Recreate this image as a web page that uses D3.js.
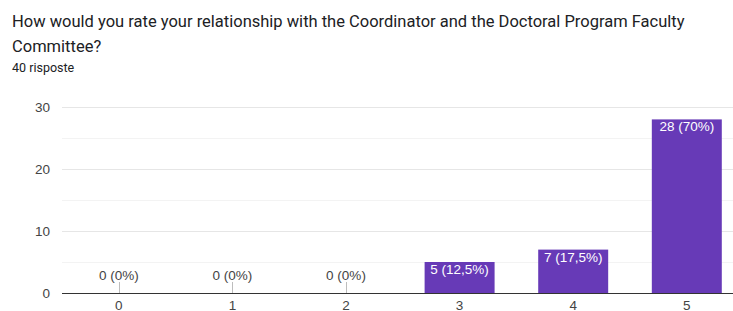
<!DOCTYPE html>
<html>
<head>
<meta charset="utf-8">
<script src="https://cdn.jsdelivr.net/npm/d3@7"></script>
<style>
  body { margin: 0; background: #fff; font-family: Roboto, Arial, sans-serif; }
  svg { display: block; }
  .lbl { font-family: "Liberation Sans", Arial, sans-serif; }
</style>
</head>
<body>
<svg id="chart" width="733" height="311"></svg>
<script>
// chart data.
var categories = ["0", "1", "2", "3", "4", "5"];
var counts = [0, 0, 0, 5, 7, 28];
var labels = ["0 (0%)", "0 (0%)", "0 (0%)", "5 (12,5%)", "7 (17,5%)", "28 (70%)"];
var yTicks = [0, 10, 20, 30];
var minorTicks = [5, 15, 25];

var svg = d3.select("#chart");

// title.
var title = svg.append("g").attr("fill", "#202124").style("font-size", "16.5px");
title.append("text").attr("x", 12).attr("y", 27)
  .text("How would you rate your relationship with the Coordinator and the Doctoral Program Faculty");
title.append("text").attr("x", 12).attr("y", 52).text("Committee?");
svg.append("text").attr("x", 12).attr("y", 72)
  .attr("fill", "#202124").style("font-size", "12.5px").text("40 risposte");

var plotLeft = 62, plotRight = 733, plotTop = 107, plotBottom = 293;

var x = d3.scaleBand().domain(categories)
  .range([plotLeft, plotLeft + 6 * 113.6]).paddingInner(0.384).paddingOuter(0.192);
var y = d3.scaleLinear().domain([0, 30]).range([plotBottom, plotTop]);

// grid.
svg.append("g").selectAll("line").data(minorTicks).join("line")
  .attr("x1", plotLeft).attr("x2", plotRight)
  .attr("y1", function(d) { return Math.round(y(d)) + 0.5; })
  .attr("y2", function(d) { return Math.round(y(d)) + 0.5; })
  .attr("stroke", "#f3f3f3");
svg.append("g").selectAll("line").data(yTicks.slice(1)).join("line")
  .attr("x1", plotLeft).attr("x2", plotRight)
  .attr("y1", function(d) { return Math.round(y(d)) + 0.5; })
  .attr("y2", function(d) { return Math.round(y(d)) + 0.5; })
  .attr("stroke", "#e6e6e6");

// y axis labels.
svg.append("g").selectAll("text").data(yTicks).join("text")
  .attr("class", "lbl")
  .attr("x", 50).attr("y", function(d) { return y(d) + 5; })
  .attr("text-anchor", "end").attr("fill", "#444").style("font-size", "13.5px")
  .text(function(d) { return d; });

// bars.
var data = categories.map(function(c, i) { return {cat: c, value: counts[i], label: labels[i]}; });

svg.append("g").selectAll("rect").data(data.filter(function(d) { return d.value > 0; })).join("rect")
  .attr("x", function(d) { return x(d.cat); })
  .attr("y", function(d) { return y(d.value); })
  .attr("width", x.bandwidth())
  .attr("height", function(d) { return y(0) - y(d.value); })
  .attr("fill", "#673ab7");

// zero-value markers.
svg.append("g").selectAll("line").data(data.filter(function(d) { return d.value === 0; })).join("line")
  .attr("x1", function(d) { return Math.round(x(d.cat) + x.bandwidth() / 2) + 0.5; })
  .attr("x2", function(d) { return Math.round(x(d.cat) + x.bandwidth() / 2) + 0.5; })
  .attr("y1", plotBottom - 11).attr("y2", plotBottom)
  .attr("stroke", "#bdbdbd");

// value labels.
svg.append("g").selectAll("text").data(data).join("text")
  .attr("class", "lbl")
  .attr("x", function(d) { return x(d.cat) + x.bandwidth() / 2; })
  .attr("y", function(d) { return d.value > 0 ? y(d.value) + 12 : plotBottom - 13; })
  .attr("text-anchor", "middle")
  .attr("fill", function(d) { return d.value > 0 ? "#fff" : "#444"; })
  .style("font-size", "13.5px")
  .text(function(d) { return d.label; });

// baseline.
svg.append("line").attr("x1", plotLeft).attr("x2", plotRight)
  .attr("y1", plotBottom + 0.5).attr("y2", plotBottom + 0.5)
  .attr("stroke", "#333").attr("stroke-width", 1.2);

// x axis labels.
svg.append("g").selectAll("text").data(categories).join("text")
  .attr("class", "lbl")
  .attr("x", function(d) { return x(d) + x.bandwidth() / 2; })
  .attr("y", 310)
  .attr("text-anchor", "middle").attr("fill", "#444").style("font-size", "13.5px")
  .text(function(d) { return d; });
</script>
</body>
</html>
